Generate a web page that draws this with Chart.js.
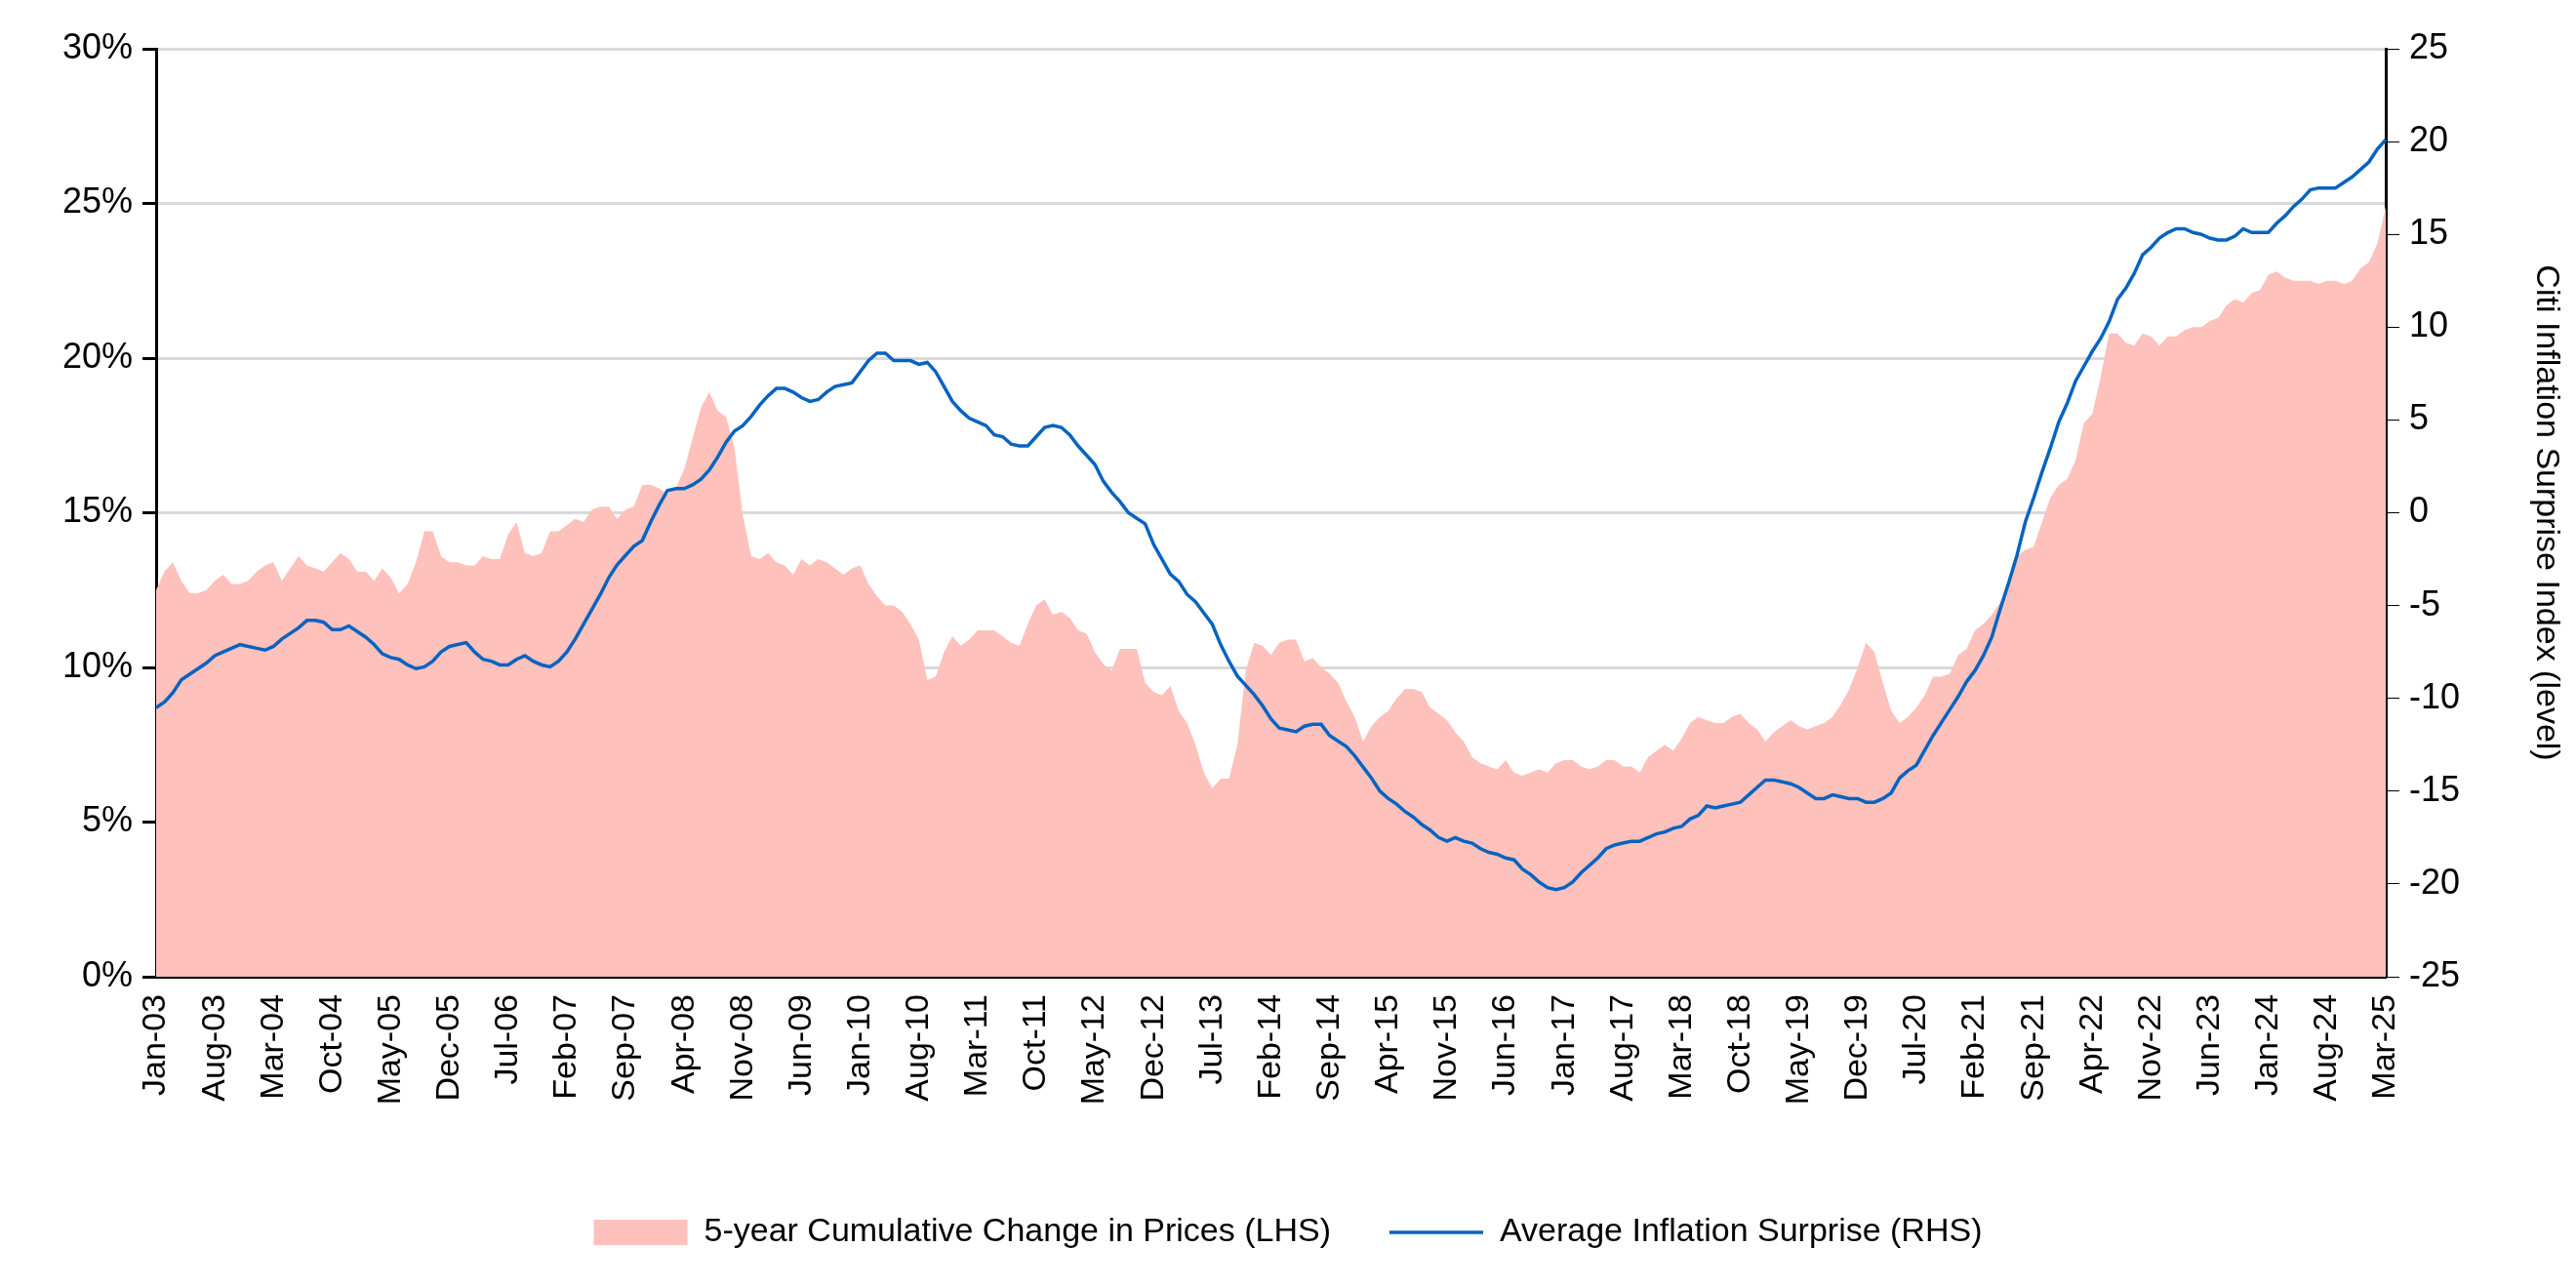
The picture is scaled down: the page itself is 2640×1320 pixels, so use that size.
<!DOCTYPE html>
<html><head><meta charset="utf-8">
<script src="https://cdn.jsdelivr.net/npm/chart.js@4"></script>
<style>html,body{margin:0;padding:0;background:#fff}canvas{display:block}</style>
</head><body>
<canvas id="c" width="2640" height="1320"></canvas>
<script>
const MONTHS = ["Jan","Feb","Mar","Apr","May","Jun","Jul","Aug","Sep","Oct","Nov","Dec"];
const categories = [];
for (let y = 3; y <= 25; y++) for (let m = 0; m < 12; m++) {
  if (y === 25 && m > 2) break;
  categories.push(MONTHS[m] + "-" + String(y).padStart(2, "0"));
}
const priceChange = [
 12.5,13.1,13.4,12.8,12.4,12.4,12.5,12.8,13.0,12.7,12.7,12.8,
 13.1,13.3,13.4,12.8,13.2,13.6,13.3,13.2,13.1,13.4,13.7,13.5,
 13.1,13.1,12.8,13.2,12.9,12.4,12.7,13.4,14.4,14.4,13.6,13.4,
 13.4,13.3,13.3,13.6,13.5,13.5,14.3,14.7,13.7,13.6,13.7,14.4,
 14.4,14.6,14.8,14.7,15.1,15.2,15.2,14.8,15.1,15.2,15.9,15.9,
 15.8,15.6,15.8,16.4,17.4,18.4,18.9,18.3,18.1,17.1,14.9,13.6,
 13.5,13.7,13.4,13.3,13.0,13.5,13.3,13.5,13.4,13.2,13.0,13.2,
 13.3,12.7,12.3,12.0,12.0,11.8,11.4,10.9,9.6,9.7,10.5,11.0,
 10.7,10.9,11.2,11.2,11.2,11.0,10.8,10.7,11.4,12.0,12.2,11.7,
 11.8,11.6,11.2,11.1,10.5,10.1,9.9,10.6,10.6,10.6,9.5,9.2,
 9.1,9.4,8.6,8.2,7.5,6.6,6.1,6.4,6.4,7.5,9.9,10.8,
 10.7,10.4,10.8,10.9,10.9,10.2,10.3,10.0,9.8,9.5,8.9,8.4,
 7.6,8.1,8.4,8.6,9.0,9.3,9.3,9.2,8.7,8.5,8.3,7.9,
 7.6,7.1,6.9,6.8,6.7,7.0,6.6,6.5,6.6,6.7,6.6,6.9,
 7.0,7.0,6.8,6.7,6.8,7.0,7.0,6.8,6.8,6.6,7.1,7.3,
 7.5,7.3,7.7,8.2,8.4,8.3,8.2,8.2,8.4,8.5,8.2,8.0,
 7.6,7.9,8.1,8.3,8.1,8.0,8.1,8.2,8.4,8.8,9.3,10.0,
 10.8,10.5,9.5,8.6,8.2,8.4,8.7,9.1,9.7,9.7,9.8,10.4,
 10.6,11.2,11.4,11.7,12.1,12.7,13.6,13.8,13.9,14.7,15.5,15.9,
 16.1,16.7,17.9,18.2,19.4,20.8,20.8,20.5,20.4,20.8,20.7,20.4,
 20.7,20.7,20.9,21.0,21.0,21.2,21.3,21.7,21.9,21.8,22.1,22.2,
 22.7,22.8,22.6,22.5,22.5,22.5,22.4,22.5,22.5,22.4,22.5,22.9,
 23.1,23.7,24.9
];
const inflationSurprise = [
 -10.5,-10.2,-9.7,-9.0,-8.7,-8.4,-8.1,-7.7,-7.5,-7.3,-7.1,-7.2,
 -7.3,-7.4,-7.2,-6.8,-6.5,-6.2,-5.8,-5.8,-5.9,-6.3,-6.3,-6.1,
 -6.4,-6.7,-7.1,-7.6,-7.8,-7.9,-8.2,-8.4,-8.3,-8.0,-7.5,-7.2,
 -7.1,-7.0,-7.5,-7.9,-8.0,-8.2,-8.2,-7.9,-7.7,-8.0,-8.2,-8.3,
 -8.0,-7.5,-6.8,-6.0,-5.2,-4.4,-3.5,-2.8,-2.3,-1.8,-1.5,-0.5,
 0.4,1.2,1.3,1.3,1.5,1.8,2.3,3.0,3.8,4.4,4.7,5.2,
 5.8,6.3,6.7,6.7,6.5,6.2,6.0,6.1,6.5,6.8,6.9,7.0,
 7.6,8.2,8.6,8.6,8.2,8.2,8.2,8.0,8.1,7.6,6.8,6.0,
 5.5,5.1,4.9,4.7,4.2,4.1,3.7,3.6,3.6,4.1,4.6,4.7,
 4.6,4.2,3.6,3.1,2.6,1.7,1.1,0.6,0.0,-0.3,-0.6,-1.7,
 -2.5,-3.3,-3.7,-4.4,-4.8,-5.4,-6.0,-7.1,-8.0,-8.8,-9.3,-9.8,
 -10.4,-11.1,-11.6,-11.7,-11.8,-11.5,-11.4,-11.4,-12.0,-12.3,-12.6,-13.1,
 -13.7,-14.3,-15.0,-15.4,-15.7,-16.1,-16.4,-16.8,-17.1,-17.5,-17.7,-17.5,
 -17.7,-17.8,-18.1,-18.3,-18.4,-18.6,-18.7,-19.2,-19.5,-19.9,-20.2,-20.3,
 -20.2,-19.9,-19.4,-19.0,-18.6,-18.1,-17.9,-17.8,-17.7,-17.7,-17.5,-17.3,
 -17.2,-17.0,-16.9,-16.5,-16.3,-15.8,-15.9,-15.8,-15.7,-15.6,-15.2,-14.8,
 -14.4,-14.4,-14.5,-14.6,-14.8,-15.1,-15.4,-15.4,-15.2,-15.3,-15.4,-15.4,
 -15.6,-15.6,-15.4,-15.1,-14.3,-13.9,-13.6,-12.8,-12.0,-11.3,-10.6,-9.9,
 -9.1,-8.5,-7.7,-6.7,-5.2,-3.8,-2.3,-0.5,0.8,2.2,3.5,4.9,
 5.9,7.1,7.9,8.7,9.4,10.3,11.5,12.1,12.9,13.9,14.3,14.8,
 15.1,15.3,15.3,15.1,15.0,14.8,14.7,14.7,14.9,15.3,15.1,15.1,
 15.1,15.6,16.0,16.5,16.9,17.4,17.5,17.5,17.5,17.8,18.1,18.5,
 18.9,19.6,20.1
];
const leftTicks = [0,5,10,15,20,25,30];
const rightTicks = [-25,-20,-15,-10,-5,0,5,10,15,20,25];
const seriesNames = ["5-year Cumulative Change in Prices (LHS)", "Average Inflation Surprise (RHS)"];
const rightTitle = "Citi Inflation Surprise Index (level)";

const FONT = "Liberation Sans, Arial, sans-serif";
Chart.defaults.font.family = FONT;
Chart.defaults.color = "#000";

new Chart(document.getElementById("c"), {
  type: "line",
  data: {
    labels: categories,
    datasets: [
      { label: seriesNames[0], data: priceChange, yAxisID: "y", fill: "origin",
        backgroundColor: "#FFC1BC", borderColor: "#FFC1BC", borderWidth: 0,
        pointRadius: 0, pointStyle: "rect", tension: 0, order: 2 },
      { label: seriesNames[1], data: inflationSurprise, yAxisID: "y1", fill: false,
        borderColor: "#0563C1", backgroundColor: "#0563C1", borderWidth: 3.5,
        pointRadius: 0, pointStyle: "line", tension: 0, order: 1 }
    ]
  },
  options: {
    responsive: false, animation: false, devicePixelRatio: 1,
    layout: { padding: { top: 50, left: 0, right: 0, bottom: 30 } },
    plugins: {
      tooltip: { enabled: false },
      legend: { position: "bottom",
        labels: { usePointStyle: true, pointStyleWidth: 96, boxHeight: 26,
          sort: (a, b) => a.datasetIndex - b.datasetIndex,
          font: { size: 34 }, padding: 60, color: "#000" } }
    },
    scales: {
      x: { type: "category", offset: false,
        grid: { display: false, drawTicks: true, tickLength: 12, color: "#000" },
        border: { display: true, color: "#000", width: 3 },
        ticks: { autoSkip: false, maxRotation: 90, minRotation: 90, font: { size: 34 }, padding: 6,
          callback: function(v, i) { return i % 7 === 0 ? categories[i] : ""; } },
        afterFit: s => { s.height = 185; } },
      y: { position: "left", min: 0, max: 30,
        afterBuildTicks: s => { s.ticks = leftTicks.map(v => ({ value: v })); },
        grid: { color: "#D9D9D9", lineWidth: 3, tickLength: 14, tickColor: "#000", drawTicks: true },
        border: { display: true, color: "#000", width: 3 },
        ticks: { font: { size: 36 }, padding: 10, callback: v => v + "%" },
        afterFit: s => { s.width = 160; } },
      y1: { position: "right", min: -25, max: 25,
        afterBuildTicks: s => { s.ticks = rightTicks.map(v => ({ value: v })); },
        grid: { drawOnChartArea: false, tickLength: 14, tickColor: "#000" },
        border: { display: true, color: "#000", width: 3 },
        ticks: { font: { size: 36 }, padding: 10 },
        title: { display: true, text: rightTitle, font: { size: 34 }, padding: { top: 10 } },
        afterFit: s => { s.width = 195; } }
    }
  }
});
</script>
</body></html>
